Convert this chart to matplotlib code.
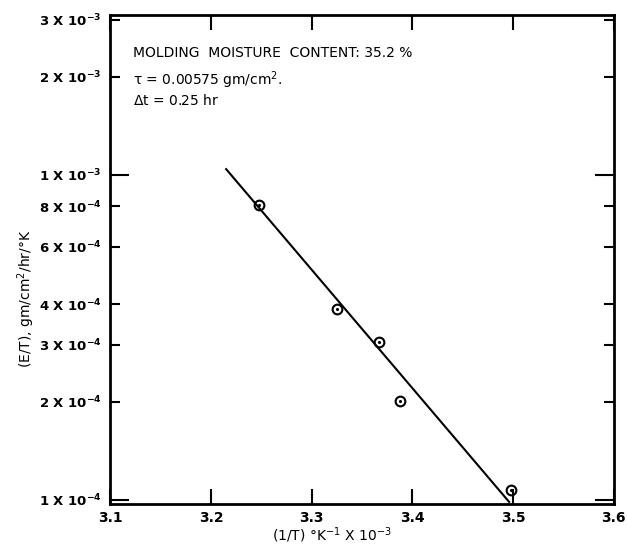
import matplotlib
matplotlib.use("Agg")
import matplotlib.pyplot as plt
from matplotlib.ticker import FixedLocator, FixedFormatter

inv_temp = [3.248, 3.325, 3.367, 3.388, 3.498]
e_over_t = [8.08e-4, 3.87e-4, 3.06e-4, 2.01e-4, 1.07e-4]

# fitted straight line (end points)
fit_x = [3.215, 3.496]
fit_y = [1.04e-3, 0.985e-4]

x_ticks = [3.1, 3.2, 3.3, 3.4, 3.5, 3.6]
x_labels = ['3.1', '3.2', '3.3', '3.4', '3.5', '3.6']
y_major = [1e-4, 1e-3]
y_major_labels = [r'1 X 10$^{-4}$', r'1 X 10$^{-3}$']
y_minor = [2e-4, 3e-4, 4e-4, 6e-4, 8e-4, 2e-3, 3e-3]
y_minor_labels = [r'2 X 10$^{-4}$', r'3 X 10$^{-4}$', r'4 X 10$^{-4}$', r'6 X 10$^{-4}$',
                  r'8 X 10$^{-4}$', r'2 X 10$^{-3}$', r'3 X 10$^{-3}$']

notes = ['MOLDING  MOISTURE  CONTENT: 35.2 %',
         r'$\tau$ = 0.00575 gm/cm$^2$.',
         r'$\Delta$t = 0.25 hr']

plt.rcParams['mathtext.default'] = 'regular'
fig = plt.figure(figsize=(6.27, 5.53), dpi=100)
ax = fig.add_axes([0.176, 0.089, 0.803, 0.884])

ax.plot(fit_x, fit_y, color='black', lw=1.5)
ax.plot(inv_temp, e_over_t, 'o', ms=7, mfc='none', mec='black', mew=1.5)
ax.plot(inv_temp, e_over_t, '.', ms=2.5, color='black')

ax.set_yscale('log')
ax.set_xlim(3.1, 3.6)
ax.set_ylim(0.972e-4, 3.1e-3)

ax.xaxis.set_major_locator(FixedLocator(x_ticks))
ax.xaxis.set_major_formatter(FixedFormatter(x_labels))
ax.xaxis.set_minor_locator(FixedLocator([]))
ax.yaxis.set_major_locator(FixedLocator(y_major))
ax.yaxis.set_major_formatter(FixedFormatter(y_major_labels))
ax.yaxis.set_minor_locator(FixedLocator(y_minor))
ax.yaxis.set_minor_formatter(FixedFormatter(y_minor_labels))

ax.tick_params(axis='x', which='major', direction='in', length=11, width=1.5,
               top=True, pad=5, labelsize=10)
ax.tick_params(axis='y', which='major', direction='in', length=14, width=1.5,
               right=True, pad=6, labelsize=9.5)
ax.tick_params(axis='y', which='minor', direction='in', length=7, width=1.5,
               right=True, pad=6, labelsize=9.5)
for lab in ax.get_xticklabels() + ax.get_yticklabels(which='both'):
    lab.set_fontweight('bold')

for sp in ax.spines.values():
    sp.set_linewidth(2)

ax.set_xlabel(r'(1/T) $\degree$K$^{-1}$ X 10$^{-3}$', fontsize=10, labelpad=1)
ax.xaxis.set_label_coords(0.44, -0.045)
ax.set_ylabel(r'(E/T), gm/cm$^2$/hr/$\degree$K', fontsize=10)
ax.yaxis.set_label_coords(-0.145, 0.42)

# annotation block, upper left
for i, txt in enumerate(notes):
    ax.text(0.045, 0.937 - i * 0.048, txt, transform=ax.transAxes, fontsize=10,
            va='top', ha='left')

fig.savefig('out.png', dpi=100)
